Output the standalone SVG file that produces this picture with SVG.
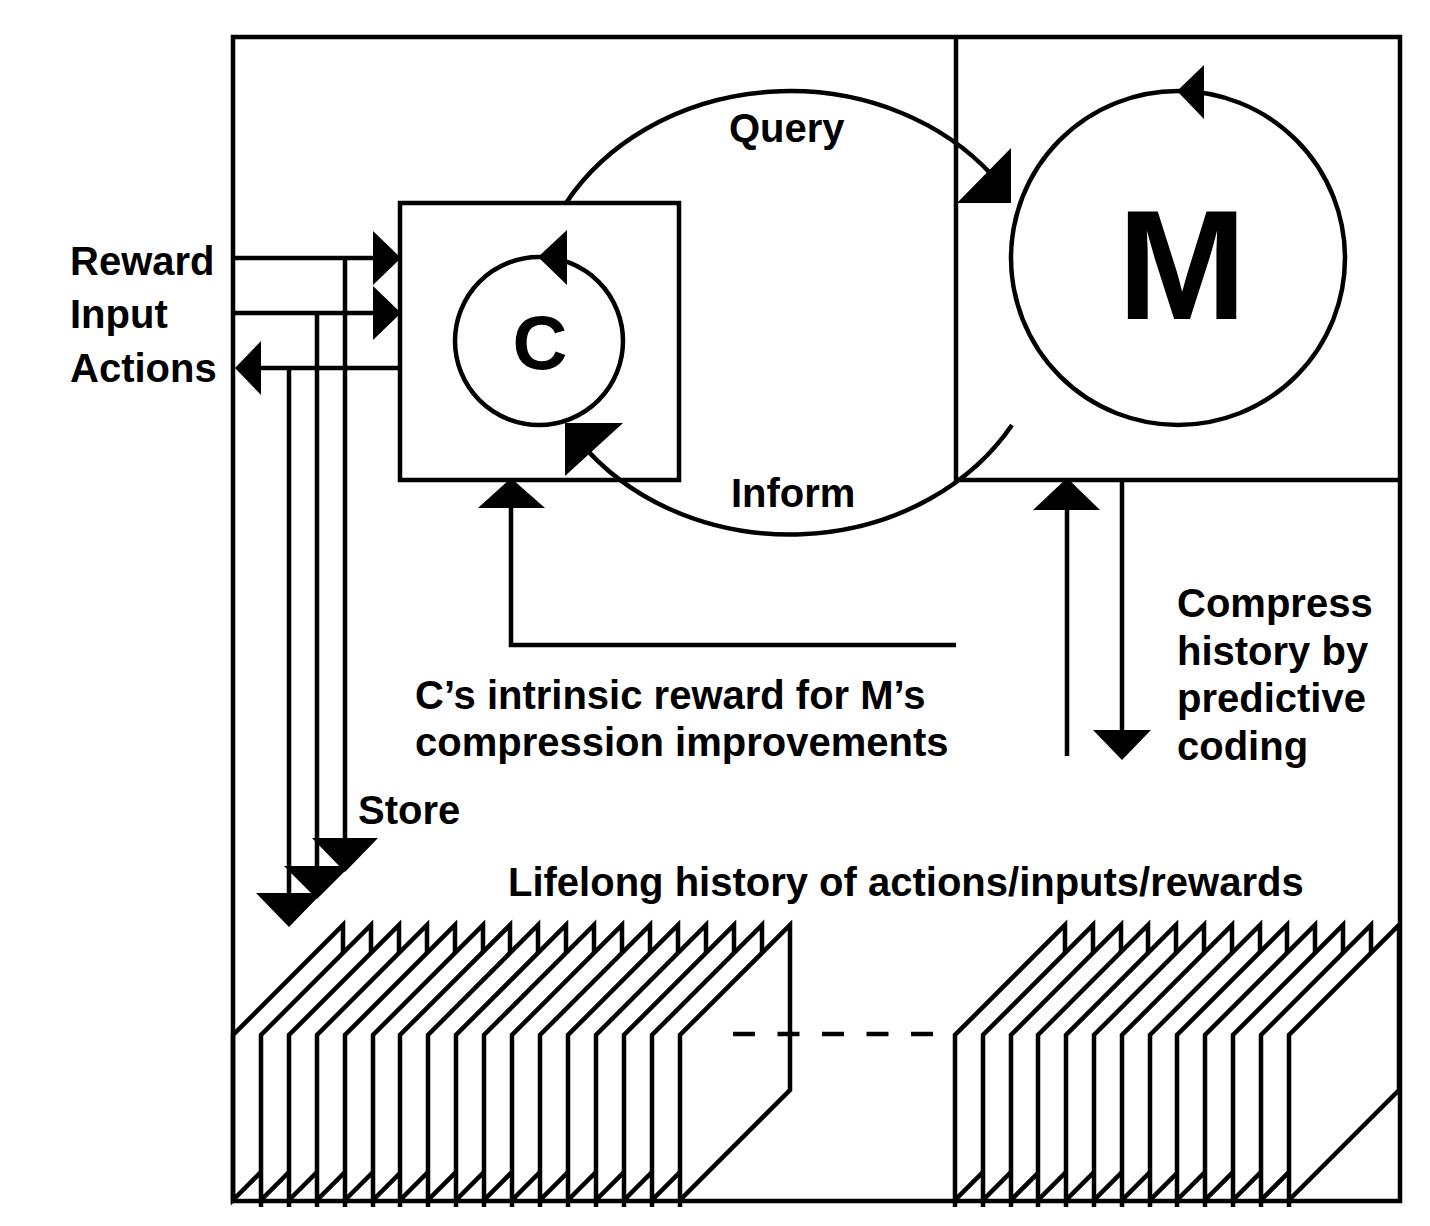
<svg xmlns="http://www.w3.org/2000/svg" width="1430" height="1226" viewBox="0 0 1430 1226">
<style>
.ln{fill:none;stroke:#000;stroke-width:4.5;stroke-linejoin:miter}
.ah{fill:#000;stroke:none}
.pg{fill:#fff;stroke:#000;stroke-width:4.5;stroke-linejoin:miter}
.t{font-family:"Liberation Sans",Arial,Helvetica,sans-serif;font-weight:bold;fill:#000;font-size:40px}
</style>
<rect width="1430" height="1226" fill="#fff"/>
<g id="history-left">
<path class="pg" d="M233,1200 L233,1035 L343,925 L343,1090 Z"/>
<path class="pg" d="M261,1200 L261,1035 L371,925 L371,1090 Z M261,1200 V1207"/>
<path class="pg" d="M289,1200 L289,1035 L399,925 L399,1090 Z M289,1200 V1207"/>
<path class="pg" d="M317,1200 L317,1035 L427,925 L427,1090 Z M317,1200 V1207"/>
<path class="pg" d="M345,1200 L345,1035 L455,925 L455,1090 Z M345,1200 V1207"/>
<path class="pg" d="M373,1200 L373,1035 L483,925 L483,1090 Z M373,1200 V1207"/>
<path class="pg" d="M400,1200 L400,1035 L510,925 L510,1090 Z M400,1200 V1207"/>
<path class="pg" d="M428,1200 L428,1035 L538,925 L538,1090 Z M428,1200 V1207"/>
<path class="pg" d="M456,1200 L456,1035 L566,925 L566,1090 Z M456,1200 V1207"/>
<path class="pg" d="M484,1200 L484,1035 L594,925 L594,1090 Z M484,1200 V1207"/>
<path class="pg" d="M512,1200 L512,1035 L622,925 L622,1090 Z M512,1200 V1207"/>
<path class="pg" d="M540,1200 L540,1035 L650,925 L650,1090 Z M540,1200 V1207"/>
<path class="pg" d="M568,1200 L568,1035 L678,925 L678,1090 Z M568,1200 V1207"/>
<path class="pg" d="M596,1200 L596,1035 L706,925 L706,1090 Z M596,1200 V1207"/>
<path class="pg" d="M624,1200 L624,1035 L734,925 L734,1090 Z M624,1200 V1207"/>
<path class="pg" d="M652,1200 L652,1035 L762,925 L762,1090 Z M652,1200 V1207"/>
<path class="pg" d="M680,1200 L680,1035 L790,925 L790,1090 Z M680,1200 V1207"/>
</g>
<g id="history-right">
<path class="pg" d="M955,1200 L955,1035 L1065,925 L1065,1090 Z M955,1200 V1207"/>
<path class="pg" d="M983,1200 L983,1035 L1093,925 L1093,1090 Z M983,1200 V1207"/>
<path class="pg" d="M1011,1200 L1011,1035 L1121,925 L1121,1090 Z M1011,1200 V1207"/>
<path class="pg" d="M1038,1200 L1038,1035 L1148,925 L1148,1090 Z M1038,1200 V1207"/>
<path class="pg" d="M1066,1200 L1066,1035 L1176,925 L1176,1090 Z M1066,1200 V1207"/>
<path class="pg" d="M1094,1200 L1094,1035 L1204,925 L1204,1090 Z M1094,1200 V1207"/>
<path class="pg" d="M1122,1200 L1122,1035 L1232,925 L1232,1090 Z M1122,1200 V1207"/>
<path class="pg" d="M1150,1200 L1150,1035 L1260,925 L1260,1090 Z M1150,1200 V1207"/>
<path class="pg" d="M1177,1200 L1177,1035 L1287,925 L1287,1090 Z M1177,1200 V1207"/>
<path class="pg" d="M1205,1200 L1205,1035 L1315,925 L1315,1090 Z M1205,1200 V1207"/>
<path class="pg" d="M1233,1200 L1233,1035 L1343,925 L1343,1090 Z M1233,1200 V1207"/>
<path class="pg" d="M1261,1200 L1261,1035 L1371,925 L1371,1090 Z M1261,1200 V1207"/>
<path class="pg" d="M1289,1200 L1289,1035 L1399,925 L1399,1090 Z M1289,1200 V1207"/>
</g>
<g id="frame">
<rect class="ln" x="233" y="37" width="1167" height="1164"/>
<path class="ln" d="M956,37 V480 H1400"/>
</g>
<g id="dashes">
<line class="ln" x1="733" y1="1034" x2="935" y2="1034" stroke-dasharray="22 22.5"/>
</g>
<g id="node-C">
<rect class="ln" x="400" y="203" width="279" height="277"/>
<circle class="ln" cx="539" cy="341" r="84"/>
<polygon class="ah" points="538,257 567,230 567,285"/>
<text class="t" x="540" y="369" text-anchor="middle" style="font-size:76px">C</text>
</g>
<g id="node-M">
<circle class="ln" cx="1178" cy="258" r="167"/>
<polygon class="ah" points="1177,91 1204,65 1204,119"/>
<text class="t" x="1182" y="319" text-anchor="middle" style="font-size:155px">M</text>
</g>
<g id="connectors">
<path class="ln" d="M566,203 A258,222 0 0 1 992,175"/>
<polygon class="ah" points="957,203 1011,148 1011,203"/>
<path class="ln" d="M1012,425 A258,222 0 0 1 580,442"/>
<polygon class="ah" points="565,423 623,423 565,476"/>
<line class="ln" x1="233" y1="258" x2="380" y2="258"/>
<polygon class="ah" points="373,231 401,258 373,285"/>
<line class="ln" x1="233" y1="313" x2="380" y2="313"/>
<polygon class="ah" points="373,286 401,313 373,340"/>
<line class="ln" x1="400" y1="368" x2="255" y2="368"/>
<polygon class="ah" points="235,368 261,341 261,395"/>
<line class="ln" x1="345" y1="258" x2="345" y2="845"/>
<line class="ln" x1="317" y1="313" x2="317" y2="872"/>
<line class="ln" x1="289" y1="368" x2="289" y2="900"/>
<polygon class="ah" points="312,838 378,838 345,872"/>
<polygon class="ah" points="284,866 350,866 317,899"/>
<polygon class="ah" points="256,893 322,893 289,927"/>
<path class="ln" d="M956,645 H511 V505"/>
<polygon class="ah" points="478,508 545,508 511,478"/>
<line class="ln" x1="1067" y1="756" x2="1067" y2="505"/>
<polygon class="ah" points="1033,510 1100,510 1067,478"/>
<line class="ln" x1="1122" y1="480" x2="1122" y2="735"/>
<polygon class="ah" points="1093,730 1151,730 1122,760"/>
</g>
<g id="labels">
<text class="t" x="70" y="275">Reward</text>
<text class="t" x="70" y="328">Input</text>
<text class="t" x="70" y="382">Actions</text>
<text class="t" x="729" y="142">Query</text>
<text class="t" x="731" y="507">Inform</text>
<text class="t" x="1177" y="617">Compress</text>
<text class="t" x="1177" y="665">history by</text>
<text class="t" x="1177" y="712">predictive</text>
<text class="t" x="1177" y="760">coding</text>
<text class="t" x="415" y="709">C’s intrinsic reward for M’s</text>
<text class="t" x="415" y="756">compression improvements</text>
<text class="t" x="358" y="824">Store</text>
<text class="t" x="508" y="896">Lifelong history of actions/inputs/rewards</text>
</g>
</svg>
